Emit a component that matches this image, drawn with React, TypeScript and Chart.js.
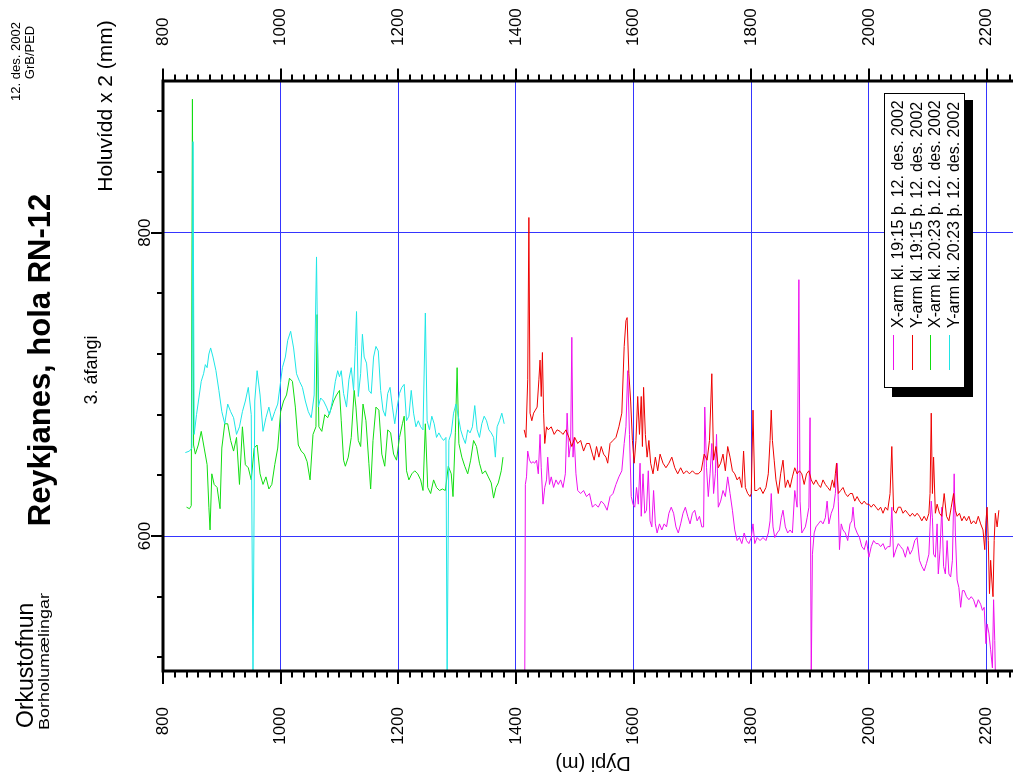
import { useEffect, useRef } from 'react';
import { Chart, registerables } from 'chart.js';

Chart.register(...registerables);

const FONT = '"Liberation Sans", Arial, sans-serif';

// Axis ranges and tick values
const depthMin = 800;
const depthMax = 2245;
const widthMin = 511;
const widthMax = 900;
const depthTickLabels = [800, 1000, 1200, 1400, 1600, 1800, 2000, 2200];
const widthTickLabels = [600, 800];
const depthMinorStep = 20;
const widthMinorStep = 40;

// Series: [depth (m), hole diameter x 2 (mm)]
const xArm1915: [number, number][] = [
  [1415, 505], [1416, 634], [1418, 639], [1420, 656], [1423, 650], [1426, 648], [1429, 649], [1432, 648], [1435, 650], [1438, 641],
  [1441, 667], [1443, 645], [1446, 621], [1449, 632], [1452, 637], [1454, 652], [1457, 634], [1460, 639], [1464, 632], [1468, 637],
  [1472, 634], [1476, 637], [1480, 632], [1484, 641], [1487, 681], [1490, 652], [1493, 661], [1495, 731], [1497, 652], [1499, 665],
  [1502, 641], [1505, 630], [1510, 628], [1515, 630], [1520, 626], [1525, 628], [1530, 619], [1535, 621], [1540, 619], [1545, 623],
  [1550, 621], [1555, 617], [1560, 626], [1565, 628], [1570, 634], [1575, 639], [1580, 643], [1584, 661], [1587, 672], [1590, 709],
  [1593, 667], [1596, 626], [1599, 621], [1602, 619], [1605, 632], [1608, 621], [1611, 648], [1613, 613], [1616, 641], [1619, 615],
  [1622, 617], [1625, 643], [1628, 610], [1631, 606], [1634, 630], [1637, 608], [1640, 602], [1644, 608], [1648, 604], [1652, 608],
  [1656, 606], [1660, 615], [1664, 619], [1668, 615], [1672, 606], [1676, 602], [1680, 608], [1684, 615], [1688, 619], [1692, 613],
  [1696, 608], [1700, 615], [1704, 617], [1708, 610], [1712, 613], [1716, 606], [1719, 606], [1721, 685], [1724, 645], [1727, 626],
  [1730, 641], [1733, 661], [1736, 628], [1739, 641], [1741, 667], [1744, 619], [1748, 623], [1752, 630], [1756, 626], [1760, 639],
  [1764, 628], [1768, 617], [1772, 604], [1776, 597], [1780, 599], [1784, 595], [1788, 602], [1792, 597], [1796, 595], [1800, 599],
  [1803, 608], [1806, 595], [1810, 599], [1815, 597], [1820, 599], [1825, 597], [1829, 602], [1832, 610], [1834, 628], [1837, 606],
  [1840, 599], [1844, 602], [1848, 604], [1851, 612], [1854, 617], [1858, 606], [1862, 602], [1866, 604], [1870, 602], [1874, 630],
  [1878, 619], [1881, 769], [1883, 623], [1886, 602], [1889, 604], [1892, 606], [1895, 612], [1898, 619], [1900, 678], [1902, 505],
  [1904, 588], [1907, 602], [1910, 606], [1914, 608], [1918, 610], [1922, 608], [1926, 612], [1929, 623], [1932, 608], [1936, 615],
  [1940, 619], [1943, 628], [1946, 648], [1948, 623], [1950, 591], [1953, 608], [1956, 604], [1960, 602], [1964, 597], [1968, 608],
  [1971, 610], [1973, 619], [1976, 606], [1980, 602], [1984, 599], [1988, 593], [1992, 591], [1996, 597], [2000, 586], [2004, 593],
  [2008, 597], [2012, 595], [2016, 595], [2020, 593], [2024, 595], [2028, 591], [2032, 593], [2036, 593], [2039, 619], [2042, 586],
  [2046, 591], [2050, 595], [2054, 593], [2058, 591], [2062, 586], [2066, 593], [2070, 588], [2074, 591], [2078, 597], [2082, 599],
  [2086, 584], [2090, 580], [2094, 577], [2098, 582], [2102, 588], [2104, 606], [2106, 623], [2108, 612], [2110, 588], [2113, 586],
  [2116, 608], [2118, 575], [2121, 591], [2124, 619], [2127, 580], [2130, 575], [2133, 597], [2136, 575], [2139, 573], [2142, 584],
  [2145, 641], [2147, 602], [2150, 571], [2153, 566], [2156, 553], [2159, 564], [2162, 564], [2166, 560], [2170, 558], [2174, 560],
  [2178, 558], [2182, 553], [2186, 558], [2190, 555], [2193, 551], [2196, 553], [2199, 529], [2201, 542], [2204, 536], [2207, 525],
  [2210, 513], [2212, 558], [2214, 531], [2215, 509],
];

const yArm1915: [number, number][] = [
  [1414, 670], [1417, 665], [1420, 703], [1422, 810], [1424, 681], [1427, 676], [1430, 681], [1433, 683], [1436, 685], [1439, 703],
  [1441, 716], [1443, 692], [1445, 721], [1447, 681], [1449, 661], [1452, 672], [1455, 670], [1460, 672], [1465, 667], [1470, 670],
  [1475, 669], [1480, 667], [1485, 670], [1490, 665], [1495, 659], [1500, 665], [1505, 661], [1510, 663], [1515, 656], [1520, 661],
  [1525, 661], [1530, 654], [1533, 650], [1537, 659], [1541, 652], [1545, 659], [1549, 654], [1553, 652], [1556, 648], [1560, 661],
  [1565, 663], [1570, 665], [1575, 672], [1580, 681], [1584, 725], [1587, 742], [1589, 744], [1592, 707], [1595, 689], [1598, 663],
  [1601, 648], [1604, 663], [1607, 692], [1610, 667], [1613, 692], [1615, 659], [1617, 698], [1620, 667], [1623, 652], [1626, 663],
  [1629, 648], [1633, 641], [1637, 652], [1641, 643], [1645, 654], [1650, 648], [1655, 645], [1660, 648], [1665, 652], [1670, 645],
  [1675, 641], [1680, 645], [1685, 641], [1690, 643], [1695, 641], [1700, 643], [1705, 641], [1710, 641], [1715, 643], [1720, 654],
  [1725, 650], [1729, 663], [1733, 707], [1736, 650], [1740, 659], [1744, 645], [1748, 648], [1752, 654], [1756, 643], [1760, 659],
  [1764, 652], [1768, 643], [1772, 641], [1776, 637], [1780, 639], [1784, 632], [1787, 656], [1790, 632], [1794, 628], [1798, 626],
  [1800, 628], [1803, 683], [1806, 630], [1810, 630], [1815, 632], [1820, 628], [1825, 632], [1829, 641], [1832, 663], [1834, 683],
  [1836, 663], [1839, 650], [1842, 637], [1846, 628], [1850, 641], [1854, 650], [1858, 632], [1862, 637], [1866, 632], [1870, 639],
  [1874, 645], [1878, 641], [1882, 643], [1886, 641], [1890, 634], [1894, 641], [1898, 643], [1902, 637], [1906, 634], [1910, 637],
  [1914, 634], [1918, 632], [1922, 637], [1926, 634], [1930, 632], [1934, 630], [1938, 637], [1941, 632], [1943, 641], [1945, 648],
  [1948, 628], [1952, 630], [1956, 632], [1960, 628], [1964, 626], [1968, 628], [1972, 628], [1976, 623], [1980, 626], [1984, 623],
  [1988, 621], [1992, 623], [1996, 621], [2000, 621], [2004, 619], [2008, 621], [2012, 619], [2016, 617], [2020, 619], [2024, 615],
  [2028, 619], [2032, 617], [2036, 628], [2039, 659], [2042, 617], [2046, 615], [2050, 619], [2054, 619], [2058, 615], [2062, 617],
  [2066, 615], [2070, 613], [2074, 615], [2078, 613], [2082, 615], [2086, 613], [2090, 610], [2094, 613], [2098, 610], [2102, 615],
  [2104, 628], [2106, 681], [2108, 628], [2110, 652], [2113, 615], [2116, 621], [2120, 615], [2124, 613], [2128, 628], [2132, 613],
  [2136, 610], [2140, 619], [2144, 628], [2147, 617], [2150, 613], [2154, 615], [2158, 610], [2162, 613], [2166, 610], [2170, 613],
  [2174, 608], [2178, 610], [2182, 608], [2186, 613], [2190, 608], [2194, 604], [2197, 591], [2199, 610], [2201, 619], [2203, 597],
  [2205, 562], [2207, 584], [2209, 571], [2211, 560], [2213, 597], [2215, 615], [2218, 606], [2221, 617],
];

const xArm2023: [number, number][] = [
  [840, 619], [845, 618], [848, 620], [850, 888], [852, 660], [855, 654], [860, 660], [865, 669], [870, 658], [875, 647],
  [878, 619], [880, 604], [883, 641], [887, 634], [892, 632], [897, 618], [900, 658], [905, 674], [910, 674], [915, 663],
  [920, 656], [925, 665], [930, 634], [935, 672], [940, 647], [945, 645], [950, 637], [955, 658], [960, 660], [965, 641],
  [970, 634], [975, 639], [980, 631], [985, 634], [990, 647], [995, 658], [1000, 682], [1005, 689], [1010, 693], [1015, 704],
  [1020, 702], [1025, 685], [1030, 660], [1035, 656], [1040, 654], [1045, 649], [1050, 637], [1055, 667], [1060, 672], [1062, 746],
  [1065, 672], [1070, 669], [1075, 680], [1080, 678], [1085, 683], [1090, 689], [1095, 693], [1100, 696], [1103, 676], [1107, 650],
  [1110, 646], [1115, 652], [1120, 665], [1125, 696], [1128, 685], [1132, 663], [1136, 659], [1140, 687], [1145, 676], [1150, 648],
  [1153, 631], [1157, 663], [1162, 685], [1167, 683], [1172, 654], [1177, 646], [1182, 670], [1187, 668], [1192, 654], [1197, 650],
  [1202, 665], [1207, 674], [1210, 679], [1214, 643], [1218, 637], [1223, 641], [1228, 643], [1233, 641], [1238, 637], [1242, 630],
  [1246, 674], [1250, 632], [1255, 628], [1260, 637], [1265, 632], [1270, 630], [1275, 631], [1280, 630], [1285, 646], [1290, 641],
  [1293, 626], [1297, 668], [1300, 711], [1303, 661], [1308, 652], [1313, 646], [1318, 641], [1323, 650], [1328, 663], [1333, 659],
  [1338, 648], [1343, 641], [1348, 643], [1353, 639], [1358, 635], [1362, 625], [1366, 632], [1370, 635], [1375, 643], [1378, 652],
];

const yArm2023: [number, number][] = [
  [838, 655], [845, 656], [849, 658], [851, 860], [853, 667], [857, 680], [861, 691], [865, 702], [869, 707], [872, 713],
  [875, 711], [878, 720], [881, 724], [885, 718], [890, 709], [895, 696], [900, 682], [905, 674], [910, 687], [915, 682],
  [920, 678], [925, 667], [930, 672], [935, 682], [940, 689], [945, 698], [950, 680], [953, 505], [956, 689], [960, 709],
  [965, 693], [970, 669], [975, 678], [980, 685], [985, 676], [990, 682], [995, 687], [1000, 702], [1003, 711], [1008, 718],
  [1012, 729], [1017, 735], [1022, 724], [1027, 707], [1032, 702], [1037, 698], [1042, 689], [1047, 682], [1052, 678], [1057, 693],
  [1061, 784], [1064, 685], [1068, 691], [1073, 689], [1078, 685], [1083, 680], [1088, 689], [1093, 702], [1097, 709], [1100, 705],
  [1103, 709], [1107, 694], [1112, 685], [1116, 703], [1120, 711], [1124, 696], [1127, 725], [1129, 748], [1132, 692], [1136, 707],
  [1139, 733], [1142, 718], [1146, 714], [1150, 696], [1154, 694], [1158, 718], [1162, 725], [1166, 722], [1170, 696], [1174, 683],
  [1178, 679], [1182, 694], [1186, 698], [1190, 685], [1194, 674], [1198, 685], [1202, 694], [1206, 698], [1210, 700], [1214, 676],
  [1218, 679], [1222, 696], [1226, 681], [1230, 672], [1234, 676], [1238, 672], [1242, 670], [1246, 747], [1249, 676], [1253, 670],
  [1257, 679], [1261, 674], [1265, 665], [1269, 668], [1273, 665], [1277, 663], [1281, 665], [1283, 505], [1286, 663], [1290, 668],
  [1294, 681], [1298, 687], [1302, 679], [1306, 670], [1310, 665], [1314, 661], [1318, 670], [1322, 668], [1326, 672], [1330, 686],
  [1334, 670], [1338, 665], [1342, 674], [1346, 679], [1350, 676], [1354, 670], [1358, 668], [1362, 665], [1365, 652], [1368, 672],
  [1372, 676], [1376, 681], [1380, 674],
];

const seriesLabels = [
  'X-arm kl. 19:15 þ. 12. des. 2002',
  'Y-arm kl. 19:15 þ. 12. des. 2002',
  'X-arm kl. 20:23 þ. 12. des. 2002',
  'Y-arm kl. 20:23 þ. 12. des. 2002',
];
const seriesColors = ['#ee11ee', '#ee0000', '#11dd11', '#1ee6e6'];
const seriesData = [xArm1915, yArm1915, xArm2023, yArm2023];
const seriesOrder = [4, 3, 2, 1];

const gridBlue = '#3535ff';

type Align = 'left' | 'right' | 'center';

function drawText(
  ctx: CanvasRenderingContext2D,
  text: string,
  x: number,
  y: number,
  angle: number,
  align: Align,
  baseline: CanvasTextBaseline,
  font: string,
  stretch = 1,
) {
  ctx.save();
  ctx.translate(x, y);
  ctx.rotate(angle);
  ctx.scale(stretch, 1);
  ctx.font = font;
  ctx.fillStyle = '#000';
  ctx.textAlign = align;
  ctx.textBaseline = baseline;
  ctx.fillText(text, 0, 0);
  ctx.restore();
}

const UP = -Math.PI / 2;

const framePlugin = {
  id: 'wellFrame',
  afterDraw(chart: any) {
    const { ctx, chartArea: a, scales } = chart;
    const xs = scales.x;
    const ys = scales.y;
    ctx.save();

    // thick frame lines
    ctx.strokeStyle = '#000';
    ctx.lineWidth = 3;
    ctx.beginPath();
    ctx.moveTo(a.left - 1.5, a.top);
    ctx.lineTo(a.right, a.top);
    ctx.moveTo(a.left - 1.5, a.bottom);
    ctx.lineTo(a.right, a.bottom);
    ctx.moveTo(a.left, a.top - 1.5);
    ctx.lineTo(a.left, a.bottom + 1.5);
    ctx.stroke();

    // depth ticks on top and bottom
    ctx.lineWidth = 2;
    ctx.beginPath();
    for (let d = depthMin; d <= depthMax; d += depthMinorStep) {
      const px = Math.round(xs.getPixelForValue(d));
      const major = depthTickLabels.includes(d);
      ctx.moveTo(px, a.top);
      ctx.lineTo(px, a.top - (major ? 12.5 : 6.5));
      ctx.moveTo(px, a.bottom);
      ctx.lineTo(px, a.bottom + (major ? 13 : 6.5));
    }
    // width ticks on the left
    for (let w = 520; w <= widthMax; w += widthMinorStep) {
      const py = Math.round(ys.getPixelForValue(w));
      const major = widthTickLabels.includes(w);
      ctx.moveTo(a.left, py);
      ctx.lineTo(a.left - (major ? 12 : 6), py);
    }
    ctx.stroke();

    const tickFont = `17px ${FONT}`;
    depthTickLabels.forEach((d) => {
      const px = xs.getPixelForValue(d);
      drawText(ctx, String(d), px, 46, UP, 'left', 'middle', tickFont);
      drawText(ctx, String(d), px, 707, UP, 'right', 'middle', tickFont);
    });
    widthTickLabels.forEach((w) => {
      const py = ys.getPixelForValue(w);
      drawText(ctx, String(w), 150, py, UP, 'center', 'alphabetic', tickFont);
    });

    // titles and annotations
    drawText(ctx, 'Holuvídd x 2 (mm)', 112, 106, UP, 'center', 'alphabetic', `21px ${FONT}`);
    drawText(ctx, 'Dýpi (m)', 593, 763, Math.PI, 'center', 'middle', `20px ${FONT}`);
    drawText(ctx, 'Reykjanes, hola RN-12', 50, 360, UP, 'center', 'alphabetic', `bold 31px ${FONT}`);
    drawText(ctx, '3. áfangi', 97, 370, UP, 'center', 'alphabetic', `18px ${FONT}`);
    drawText(ctx, '12. des. 2002', 20, 61.5, UP, 'center', 'alphabetic', `13px ${FONT}`);
    drawText(ctx, 'GrB/PED', 34, 52.5, UP, 'center', 'alphabetic', `13px ${FONT}`);
    drawText(ctx, 'Orkustofnun', 33, 728, UP, 'left', 'alphabetic', `23px ${FONT}`);
    drawText(ctx, 'Borholumælingar', 49, 730, UP, 'left', 'alphabetic', `15px ${FONT}`, 1.2);

    // legend box with drop shadow
    ctx.fillStyle = '#000';
    ctx.fillRect(892, 100, 81, 297);
    ctx.fillStyle = '#fff';
    ctx.fillRect(884, 93, 80, 294);
    ctx.strokeStyle = '#000';
    ctx.lineWidth = 1;
    ctx.strokeRect(884.5, 93.5, 80, 294);

    const baselines = [903, 921.7, 940.4, 959];
    seriesLabels.forEach((label, i) => {
      const bx = baselines[i];
      ctx.strokeStyle = seriesColors[i];
      ctx.lineWidth = 1;
      ctx.beginPath();
      ctx.moveTo(Math.round(bx - 10) + 0.5, 335);
      ctx.lineTo(Math.round(bx - 10) + 0.5, 370);
      ctx.stroke();
      drawText(ctx, label, bx, 328, UP, 'left', 'alphabetic', `16px ${FONT}`);
    });

    ctx.restore();
  },
};

export default function App() {
  const canvasRef = useRef<HTMLCanvasElement | null>(null);

  useEffect(() => {
    const canvas = canvasRef.current;
    if (!canvas) return;
    const chart = new Chart(canvas, {
      type: 'line',
      data: {
        datasets: seriesData.map((pts, i) => ({
          label: seriesLabels[i],
          data: pts.map(([d, w]) => ({ x: d, y: w })),
          borderColor: seriesColors[i],
          backgroundColor: seriesColors[i],
          borderWidth: 1,
          pointRadius: 0,
          tension: 0,
          fill: false,
          order: seriesOrder[i],
        })),
      },
      options: {
        responsive: false,
        animation: false,
        devicePixelRatio: 1,
        layout: { padding: { left: 163, top: 81, right: 0, bottom: 110 } },
        plugins: { legend: { display: false }, tooltip: { enabled: false } },
        scales: {
          x: {
            type: 'linear',
            min: depthMin,
            max: depthMax,
            border: { display: false },
            grid: { color: gridBlue, lineWidth: 1, drawTicks: false },
            ticks: { display: false },
            afterBuildTicks: (s: any) => {
              s.ticks = depthTickLabels.map((v) => ({ value: v }));
            },
          },
          y: {
            type: 'linear',
            min: widthMin,
            max: widthMax,
            border: { display: false },
            grid: { color: gridBlue, lineWidth: 1, drawTicks: false },
            ticks: { display: false },
            afterBuildTicks: (s: any) => {
              s.ticks = widthTickLabels.map((v) => ({ value: v }));
            },
          },
        },
      },
      plugins: [framePlugin],
    });
    return () => chart.destroy();
  }, []);

  return (
    <div style={{ position: 'absolute', left: 0, top: 0, width: 1013, height: 781, background: '#fff' }}>
      <canvas ref={canvasRef} width={1013} height={781} style={{ display: 'block' }} />
    </div>
  );
}
